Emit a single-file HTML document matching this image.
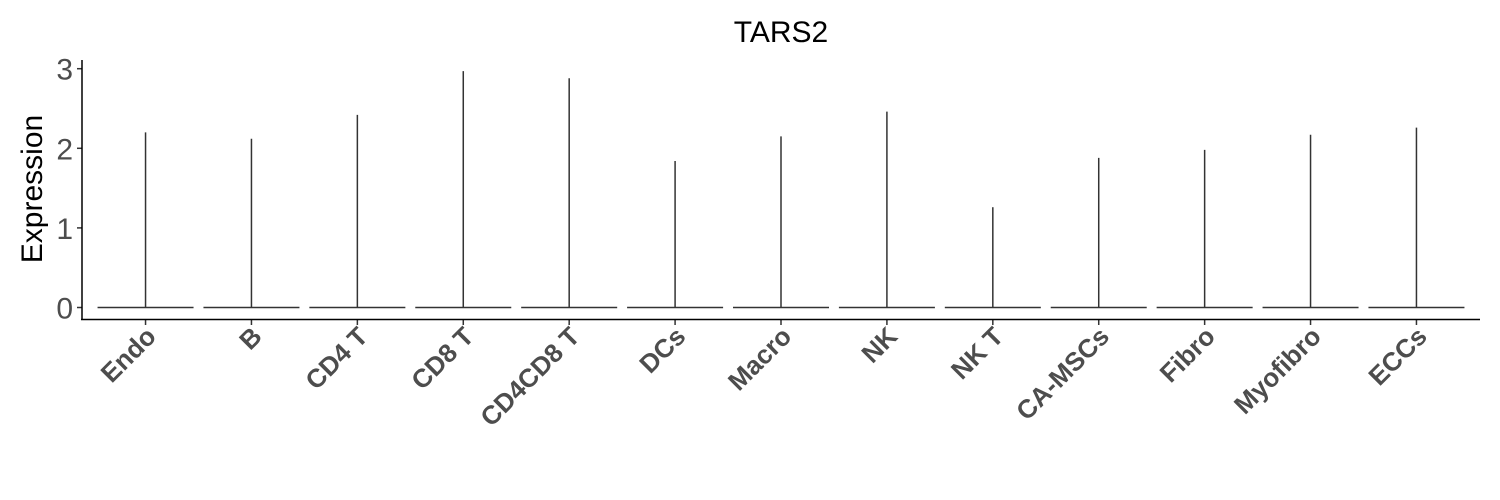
<!DOCTYPE html>
<html><head><meta charset="utf-8"><style>
body{margin:0;background:#fff}
svg{display:block;font-family:"Liberation Sans",sans-serif}
</style></head><body>
<svg id="chart" width="1500" height="500">
<text x="781" y="42" text-anchor="middle" font-size="30" fill="#000">TARS2</text>
<text transform="translate(42,189) rotate(-90)" text-anchor="middle" font-size="30" fill="#000">Expression</text>
<g id="marks"></g>
<line x1="82" y1="60" x2="82" y2="320" stroke="#000" stroke-width="1.5"/>
<line x1="81" y1="319.5" x2="1480" y2="319.5" stroke="#000" stroke-width="1.5"/>
</svg>
<script>
const categories=["Endo","B","CD4 T","CD8 T","CD4CD8 T","DCs","Macro","NK","NK T","CA-MSCs","Fibro","Myofibro","ECCs"];
const maxValues=[2.2,2.12,2.42,2.97,2.88,1.84,2.15,2.46,1.26,1.88,1.98,2.17,2.26];
const yTicks=[0,1,2,3];
const NS="http://www.w3.org/2000/svg";
const g=document.getElementById("marks");
const x0=82,x1=1480,n=categories.length;
const step=(x1-x0)/(n-1+1.2);
function xs(i){return x0+(i+0.6)*step;}
function ys(v){return 307.5-v*79.6;}
function mk(t,a){const e=document.createElementNS(NS,t);for(const k in a)e.setAttribute(k,a[k]);g.appendChild(e);return e;}
yTicks.forEach(v=>{
  const t=mk("line",{x1:77,x2:82,y1:ys(v),y2:ys(v),stroke:"#333","stroke-width":1.5});
  
  
  const l=mk("text",{x:73,y:ys(v)+11,"text-anchor":"end","font-size":30,fill:"#4d4d4d"});
  l.textContent=v;
  
  
});
categories.forEach((c,i)=>{
  const cx=xs(i);
  const h=mk("line",{x1:cx-48,x2:cx+48,y1:ys(0),y2:ys(0),stroke:"#333","stroke-width":1.5});
  
  
  const v=mk("line",{x1:cx,x2:cx,y1:ys(0),y2:ys(maxValues[i]),stroke:"#333","stroke-width":1.5});
  
  
  const t=mk("line",{x1:cx,x2:cx,y1:320,y2:325,stroke:"#333","stroke-width":1.5});
  
  
  const l=mk("text",{transform:`translate(${cx+12},${338}) rotate(-45)`,"text-anchor":"end","font-size":26,"font-weight":"bold",fill:"#4d4d4d"});
  l.textContent=c;
  
  
});
</script>
</body></html>
